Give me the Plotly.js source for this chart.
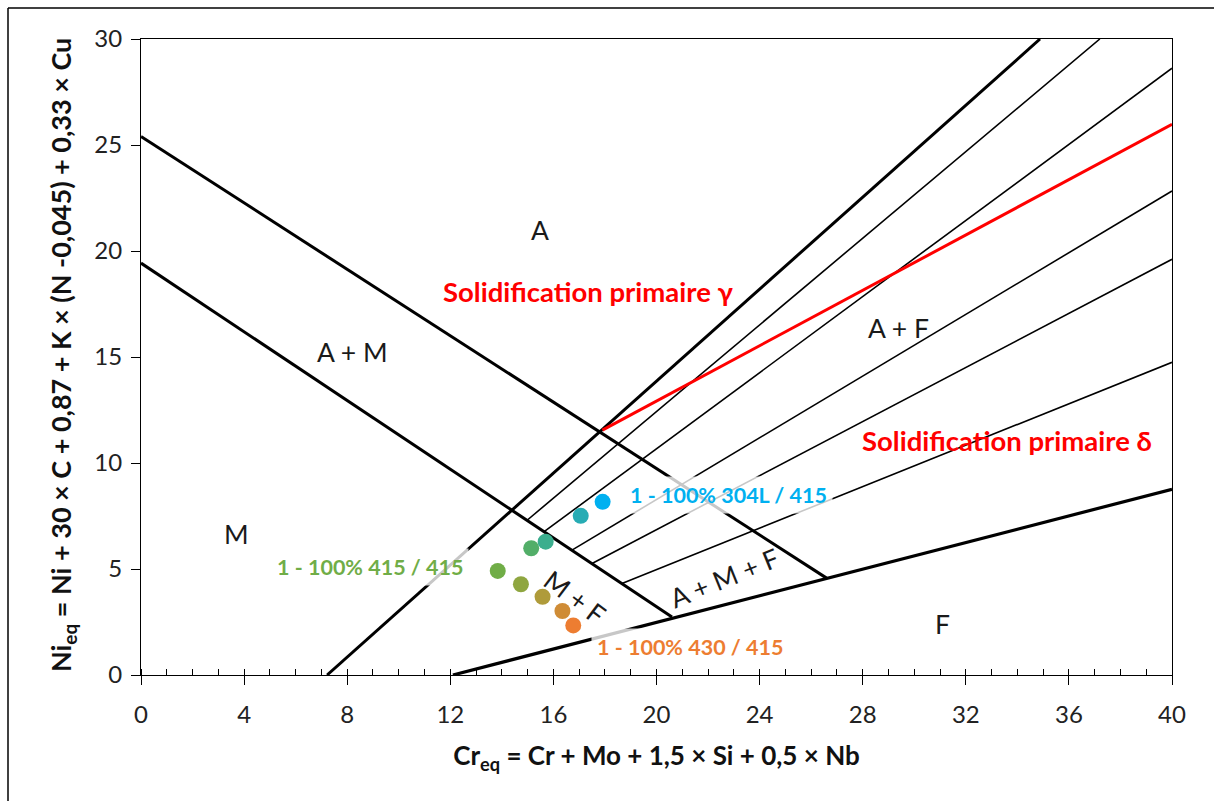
<!DOCTYPE html>
<html>
<head>
<meta charset="utf-8">
<script src="https://cdn.plot.ly/plotly-3.0.1.min.js"></script>
<style>html,body{margin:0;padding:0;background:#fff;}#chart{width:1214px;height:801px;}</style>
</head>
<body>
<div id="chart"></div>
<script>
// ---- Diagram boundary lines (Cr_eq, Ni_eq) ----
const austeniteLimitX = [0, 26.6];        // A | A+M  and A+F | A+M+F
const austeniteLimitY = [25.4, 4.57];
const martensiteLimitX = [0, 20.6];       // A+M | M  and M+F
const martensiteLimitY = [19.43, 2.74];
const ferriteLimitX = [12.1, 40];         // F boundary
const ferriteLimitY = [0, 8.76];
const zeroFerriteX = [7.22, 34.88];       // 0 % ferrite line
const zeroFerriteY = [0, 30];
// iso-ferrite lines (start on the martensite line, end on the frame)
const isoStartX = [14.98, 15.64, 16.72, 17.50, 18.66];
const isoStartY = [7.30, 6.76, 5.89, 5.26, 4.32];
const isoEndX = [37.2, 40, 40, 40, 40];
const isoEndY = [30, 28.62, 22.83, 19.61, 14.75];
// primary solidification limit (red)
const solidifX = [17.9, 40];
const solidifY = [11.55, 25.98];

// ---- Weld deposits ----
const depositCr = [13.84, 15.14, 15.70, 17.06, 17.91, 14.74, 15.58, 16.35, 16.77];
const depositNi = [4.91, 5.98, 6.29, 7.51, 8.17, 4.28, 3.69, 3.02, 2.34];
const depositColors = ['#70AD47', '#52AE68', '#3BAE8E', '#27ACB4', '#00B0F0',
                       '#8FA640', '#AF9B3A', '#CF8C36', '#ED7D31'];

// ---- Text ----
const regionNames = ['A', 'A + M', 'A + F', 'M', 'M + F', 'A + M + F', 'F'];
const regionX = [15.48, 8.19, 29.37, 3.72, 16.84, 22.62, 31.08];
const regionY = [20.99, 15.24, 16.37, 6.65, 3.70, 4.58, 2.41];
const regionAngle = [0, 0, 0, 0, 37, -22, 0];

const seriesNames = ['1 - 100% 304L / 415', '1 - 100% 415 / 415', '1 - 100% 430 / 415'];
const seriesLabelX = [22.81, 8.88, 21.3];
const seriesLabelY = [8.49, 5.09, 1.32];
const seriesLabelColor = ['#00B0F0', '#70AD47', '#ED7D31'];

const solidNames = ['Solidification primaire γ', 'Solidification primaire δ'];
const solidLabelX = [17.38, 33.6];
const solidLabelY = [18.07, 11.04];

const xTitle = 'Cr<sub>eq</sub> = Cr + Mo + 1,5 × Si + 0,5 × Nb';
const yTitle = 'Ni<sub>eq</sub> = Ni + 30 × C + 0,87 + K × (N -0,045) + 0,33 × Cu';

const xTicks = [0, 4, 8, 12, 16, 20, 24, 28, 32, 36, 40];
const yTicks = [0, 5, 10, 15, 20, 25, 30];

const FONT = 'Lato, "Open Sans", sans-serif';

function line(x, y, w, c) {
  return {x: x, y: y, type: 'scatter', mode: 'lines', hoverinfo: 'skip',
          line: {color: c || '#000', width: w}, showlegend: false};
}

const traces = [];
traces.push(line(austeniteLimitX, austeniteLimitY, 3));
traces.push(line(martensiteLimitX, martensiteLimitY, 3));
traces.push(line(ferriteLimitX, ferriteLimitY, 3.2));
traces.push(line(zeroFerriteX, zeroFerriteY, 3));
for (let i = 0; i < isoStartX.length; i++) {
  traces.push(line([isoStartX[i], isoEndX[i]], [isoStartY[i], isoEndY[i]], 1.6));
}
traces.push(line(solidifX, solidifY, 3, '#FF0000'));
traces.push({
  x: depositCr, y: depositNi, type: 'scatter', mode: 'markers', showlegend: false,
  marker: {size: 16, color: depositColors, line: {width: 0}}
});

const annotations = [];
for (let i = 0; i < regionNames.length; i++) {
  annotations.push({x: regionX[i], y: regionY[i], xref: 'x', yref: 'y', text: regionNames[i],
    showarrow: false, textangle: regionAngle[i],
    font: {family: FONT, size: 26.5, color: '#1a1a1a'}});
}
for (let i = 0; i < seriesNames.length; i++) {
  annotations.push({x: seriesLabelX[i], y: seriesLabelY[i], xref: 'x', yref: 'y',
    text: '<b>' + seriesNames[i] + '</b>', showarrow: false,
    bgcolor: 'rgba(255,255,255,0.78)', borderpad: 5,
    font: {family: FONT, size: 21.5, color: seriesLabelColor[i]}});
}
for (let i = 0; i < solidNames.length; i++) {
  annotations.push({x: solidLabelX[i], y: solidLabelY[i], xref: 'x', yref: 'y',
    text: '<b>' + solidNames[i] + '</b>', showarrow: false,
    font: {family: FONT, size: 27.5, color: '#FF0000'}});
}
// y axis title (rotated), centred like the reference
annotations.push({x: -0.0766, y: 0.503, xref: 'paper', yref: 'paper',
  xanchor: 'center', yanchor: 'middle', textangle: -90, showarrow: false,
  text: '<b>' + yTitle + '</b>',
  font: {family: FONT, size: 27, color: '#111'}});

const layout = {
  width: 1214, height: 801,
  margin: {l: 141, r: 42, t: 39, b: 126},
  paper_bgcolor: '#fff', plot_bgcolor: '#fff',
  font: {family: FONT, color: '#222'},
  showlegend: false,
  xaxis: {
    range: [0, 40], tickvals: xTicks, ticktext: xTicks.map(String),
    showgrid: false, zeroline: false,
    showline: true, linecolor: '#000', linewidth: 1, mirror: true,
    ticks: 'outside', ticklen: 9, tickcolor: '#000', tickwidth: 1,
    ticklabelstandoff: 9,
    tickfont: {family: FONT, size: 24, color: '#222'},
    minor: {dtick: 1, ticks: 'inside', ticklen: 6, tickcolor: '#000', tickwidth: 1, showgrid: false},
    title: {text: '<b>' + xTitle + '</b>', standoff: 20,
            font: {family: FONT, size: 26, color: '#111'}},
    automargin: false
  },
  yaxis: {
    range: [0, 30], tickvals: yTicks, ticktext: yTicks.map(String),
    showgrid: false, zeroline: false,
    showline: true, linecolor: '#000', linewidth: 1, mirror: true,
    ticks: 'outside', ticklen: 9, tickcolor: '#000', tickwidth: 1,
    ticklabelstandoff: 4,
    tickfont: {family: FONT, size: 24, color: '#222'},
    automargin: false
  },
  annotations: annotations,
  shapes: [
    {type: 'line', xref: 'paper', yref: 'paper', x0: -0.1290, x1: -0.1290, y0: 1.0487, y1: -0.25,
     line: {color: '#000', width: 1.5}},
    {type: 'line', xref: 'paper', yref: 'paper', x0: -0.1290, x1: 1.05, y0: 1.0487, y1: 1.0487,
     line: {color: '#000', width: 1.5}}
  ]
};

Plotly.newPlot('chart', traces, layout, {displayModeBar: false, staticPlot: true});
</script>
</body>
</html>
